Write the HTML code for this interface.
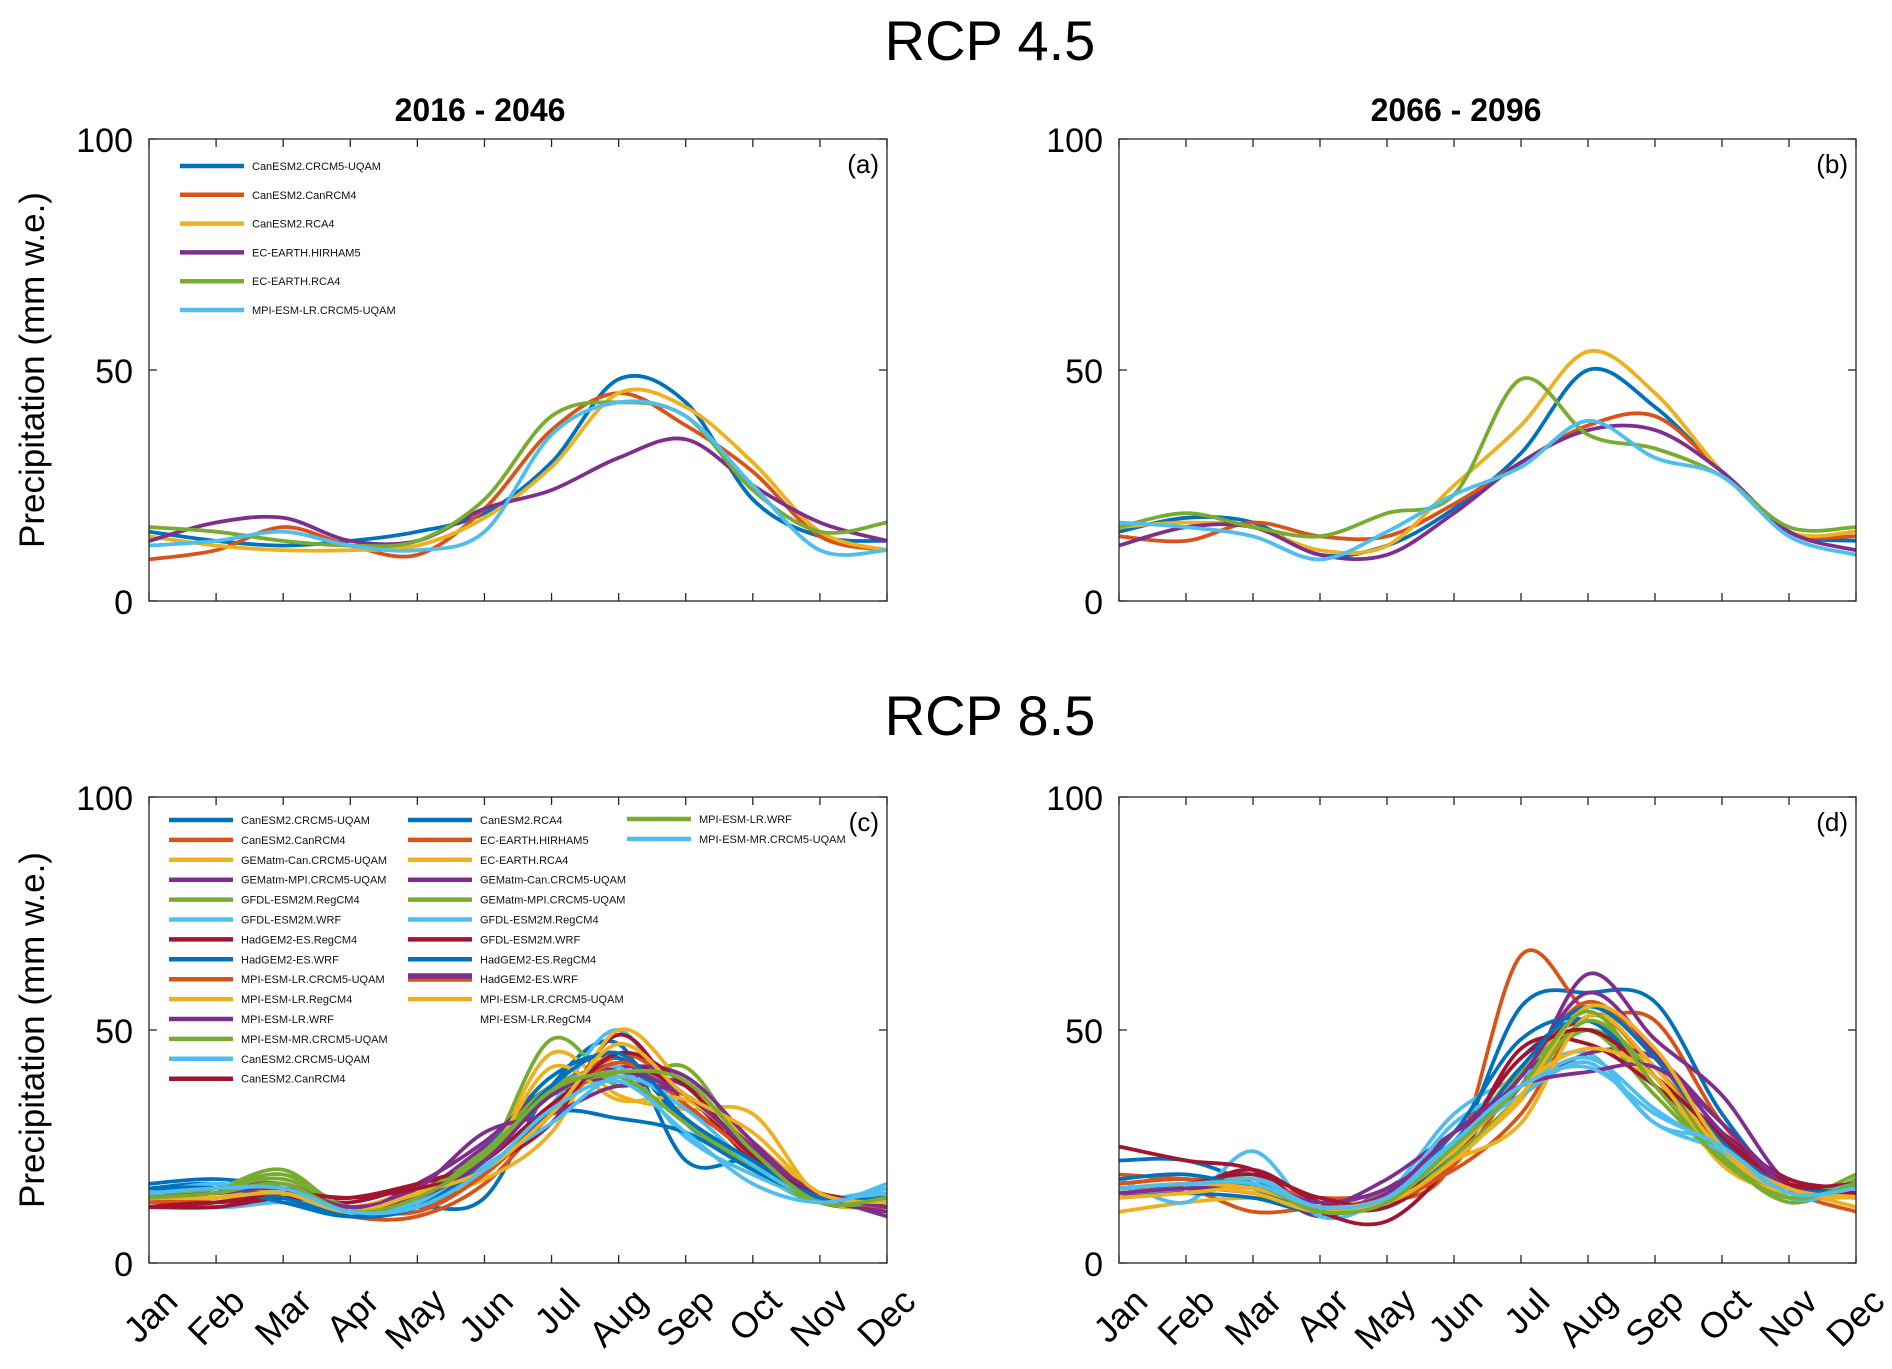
<!DOCTYPE html>
<html><head><meta charset="utf-8"><style>
html,body{margin:0;padding:0;background:#fff;}
svg{display:block;font-family:"Liberation Sans",Arial,sans-serif;}
</style></head><body>
<svg id="fig" width="1892" height="1369" viewBox="0 0 1892 1369" xmlns="http://www.w3.org/2000/svg">
<text x="990" y="60" font-size="56" text-anchor="middle">RCP 4.5</text>
<text x="990" y="735" font-size="56" text-anchor="middle">RCP 8.5</text>
<text x="480" y="121" font-size="32" font-weight="bold" text-anchor="middle">2016 - 2046</text>
<text x="1456" y="121" font-size="32" font-weight="bold" text-anchor="middle">2066 - 2096</text>
</svg>
<script>
const months=["Jan","Feb","Mar","Apr","May","Jun","Jul","Aug","Sep","Oct","Nov","Dec"];
const yTicks=[0,50,100];
const C={b:"#0072BD",o:"#D95319",y:"#EDB120",p:"#7E2F8E",g:"#77AC30",c:"#4DBEEE",r:"#A2142F"};
const namesA=["CanESM2.CRCM5-UQAM","CanESM2.CanRCM4","CanESM2.RCA4","EC-EARTH.HIRHAM5","EC-EARTH.RCA4","MPI-ESM-LR.CRCM5-UQAM"];
const colorsA=["b","o","y","p","g","c"];
const seriesA=[
[15,13,12,13,15,19,30,48,43,22,14,13],
[9,11,16,12,10,20,37,45,38,28,14,11],
[14,12,11,11,12,18,29,45,42,30,15,11],
[13,17,18,13,13,20,24,31,35,25,17,13],
[16,15,13,12,13,22,40,43,40,24,15,17],
[12,13,15,12,11,15,36,43,40,25,11,11]];
const seriesB=[
[15,18,17,10,12,20,32,50,42,28,15,13],
[14,13,17,14,14,21,30,38,40,28,15,14],
[16,17,16,11,12,25,38,54,45,28,15,15],
[12,16,16,10,10,19,30,37,37,28,15,11],
[16,19,16,14,19,23,48,36,33,27,16,16],
[17,16,14,9,15,23,29,39,31,27,14,10]];
const namesC=["CanESM2.CRCM5-UQAM","CanESM2.CanRCM4","GEMatm-Can.CRCM5-UQAM","GEMatm-MPI.CRCM5-UQAM","GFDL-ESM2M.RegCM4","GFDL-ESM2M.WRF","HadGEM2-ES.RegCM4","HadGEM2-ES.WRF","MPI-ESM-LR.CRCM5-UQAM","MPI-ESM-LR.RegCM4","MPI-ESM-LR.WRF","MPI-ESM-MR.CRCM5-UQAM","CanESM2.CRCM5-UQAM","CanESM2.CanRCM4",
"CanESM2.RCA4","EC-EARTH.HIRHAM5","EC-EARTH.RCA4","GEMatm-Can.CRCM5-UQAM","GEMatm-MPI.CRCM5-UQAM","GFDL-ESM2M.RegCM4","GFDL-ESM2M.WRF","HadGEM2-ES.RegCM4","HadGEM2-ES.WRF","MPI-ESM-LR.CRCM5-UQAM","MPI-ESM-LR.RegCM4",
"MPI-ESM-LR.WRF","MPI-ESM-MR.CRCM5-UQAM"];
const colorsC=["b","o","y","p","g","c","r","b","o","y","p","g","c","r","b","o","y","p","g","c","r","b","p","y","","g","c"];
const seriesC=[
[17,18,16,11,12,14,38,47,22,22,14,14],
[13,14,15,10,10,17,32,44,30,22,13,12],
[14,13,15,12,16,22,45,36,33,32,14,12],
[15,16,17,12,15,25,36,40,38,25,15,10],
[14,16,20,11,14,22,48,38,42,23,13,14],
[15,12,13,11,13,20,34,50,30,20,13,17],
[13,13,14,14,17,21,30,49,34,24,15,14],
[16,17,14,10,13,24,40,44,30,21,14,13],
[14,15,16,12,12,19,33,45,36,24,14,14],
[13,14,15,11,14,18,28,50,38,26,15,12],
[14,15,16,11,17,26,38,42,40,26,14,12],
[15,16,19,12,15,24,38,40,30,20,13,13],
[15,17,15,10,13,22,36,42,27,19,14,16],
[12,12,14,13,17,22,34,43,36,22,14,12],
[16,16,13,10,13,20,32,31,28,20,14,15],
[13,14,15,12,11,19,32,43,34,23,14,12],
[14,15,15,11,15,22,42,35,35,24,14,13],
[14,15,16,12,16,28,32,38,36,24,14,11],
[15,16,18,12,14,24,36,40,30,21,13,13],
[14,14,15,11,13,21,30,40,33,21,14,15],
[12,13,15,14,16,20,32,45,38,23,15,13],
[15,16,14,10,12,22,38,45,31,22,14,14],
[14,15,16,12,14,22,36,41,36,24,15,12],
[14,14,15,11,15,20,32,47,36,28,15,13],
null,
[14,15,17,11,14,23,37,41,39,24,13,14],
[15,16,16,11,12,20,33,39,28,17,13,16]];
const seriesD=[
[22,22,17,11,13,24,55,58,56,32,16,16],
[16,16,11,12,13,22,66,54,52,30,16,11],
[11,13,14,13,14,23,35,55,40,22,16,12],
[16,17,17,10,16,26,38,62,48,36,17,15],
[16,17,18,12,13,24,38,50,40,23,13,18],
[18,13,24,10,15,32,40,45,30,26,14,16],
[25,22,20,11,9,22,42,52,40,28,18,16],
[17,18,16,12,14,26,44,52,38,25,16,16],
[19,18,17,14,15,20,32,53,42,26,17,15],
[14,15,16,12,13,24,42,50,38,22,15,15],
[15,16,15,12,18,28,36,45,44,30,17,15],
[17,18,16,11,14,25,41,50,36,22,14,19],
[16,17,19,11,14,30,38,44,33,24,15,16],
[14,16,20,13,12,23,46,47,38,26,17,17],
[15,15,14,11,15,28,48,52,40,24,15,17],
[17,18,16,12,13,21,40,56,44,26,16,14],
[15,16,15,11,14,22,30,53,42,24,15,15],
[14,16,17,13,16,26,40,58,45,28,16,14],
[16,17,17,11,13,23,36,52,40,23,14,17],
[15,16,18,12,15,26,36,43,30,24,15,17],
[16,17,19,14,13,25,44,50,40,27,17,15],
[18,19,16,12,14,24,42,55,44,26,16,16],
[15,16,16,12,15,28,38,41,42,30,16,14],
[16,17,16,12,13,22,36,55,46,25,16,14],
[14,15,16,12,14,24,38,46,40,21,15,14],
[16,17,17,11,13,25,38,54,38,22,14,17],
[16,17,17,12,14,26,38,42,32,25,15,16]];

const NS="http://www.w3.org/2000/svg";
const svg=document.getElementById("fig");
function mk(tag,attrs,parent){const e=document.createElementNS(NS,tag);for(const k in attrs)e.setAttribute(k,attrs[k]);(parent||svg).appendChild(e);return e;}

function panel(id,x0,x1,y0,y1,series,colors,letter,showMonths,showYLabel){
  const g=mk("g",{});
  
  
  const xs=i=>x0+(x1-x0)*i/11;
  const ys=v=>y1-(y1-y0)*v/100;
  const cp=mk("clipPath",{id:"clip-"+id},g);
  mk("rect",{x:x0,y:y0,width:x1-x0,height:y1-y0},cp);
  const lg=mk("g",{"clip-path":"url(#clip-"+id+")"},g);
  series.forEach((s,k)=>{
    if(!s)return;
    const p=s.map((v,i)=>[xs(i),ys(v)]);
    let d="M"+p[0][0]+","+p[0][1];
    for(let i=0;i<p.length-1;i++){
      const a=p[Math.max(0,i-1)],b=p[i],c=p[i+1],e=p[Math.min(p.length-1,i+2)];
      const c1=[b[0]+(c[0]-a[0])/6,b[1]+(c[1]-a[1])/6];
      const c2=[c[0]-(e[0]-b[0])/6,c[1]-(e[1]-b[1])/6];
      d+=" C"+c1[0].toFixed(1)+","+c1[1].toFixed(1)+" "+c2[0].toFixed(1)+","+c2[1].toFixed(1)+" "+c[0].toFixed(1)+","+c[1].toFixed(1);
    }
    const path=mk("path",{d:d,fill:"none",stroke:C[colors[k]||"y"],"stroke-width":3.8,"stroke-linejoin":"round"},lg);
    
    
  });
  const box=mk("rect",{x:x0,y:y0,width:x1-x0,height:y1-y0,fill:"none",stroke:"#262626","stroke-width":1.3},g);
  
  
  months.forEach((m,i)=>{
    const x=xs(i);
    mk("line",{x1:x,x2:x,y1:y1,y2:y1-8,stroke:"#262626","stroke-width":1.3},g);
    mk("line",{x1:x,x2:x,y1:y0,y2:y0+8,stroke:"#262626","stroke-width":1.3},g);
    if(showMonths){
      const tx=x+12,ty=y1+22;
      const t=mk("text",{x:tx,y:ty,"font-size":36,"text-anchor":"end",transform:"rotate(-45 "+tx+" "+ty+")","dominant-baseline":"hanging"},g);
      t.textContent=m;
      
      
    }
  });
  yTicks.forEach(v=>{
    const y=ys(v);
    mk("line",{x1:x0,x2:x0+8,y1:y,y2:y,stroke:"#262626","stroke-width":1.3},g);
    mk("line",{x1:x1,x2:x1-8,y1:y,y2:y,stroke:"#262626","stroke-width":1.3},g);
    const t=mk("text",{x:x0-16,y:y+13,"font-size":34,"text-anchor":"end"},g);
    t.textContent=v;
    
    
  });
  const lt=mk("text",{x:x1-8,y:y0+34,"font-size":26,"text-anchor":"end"},g);
  lt.textContent="("+letter+")";
  
  
  if(showYLabel){
    const cy=(y0+y1)/2;
    const t=mk("text",{x:44,y:cy,"font-size":35,"text-anchor":"middle",transform:"rotate(-90 44 "+cy+")"},g);
    t.textContent="Precipitation (mm w.e.)";
    
    
  }
  return g;
}
function legendEntry(x,y,w,name,color,fs,id){
  const g=mk("g",{});
  
  
  if(color)mk("line",{x1:x,x2:x+w,y1:y,y2:y,stroke:C[color],"stroke-width":4.5},g);
  const t=mk("text",{x:x+w+8,y:y+4,"font-size":fs,fill:"#111"},g);
  t.textContent=name;
}
panel("a",149,887,139,601,seriesA,colorsA,"a",false,true);
panel("b",1119,1856,139,601,seriesB,colorsA,"b",false,false);
panel("c",149,887,797,1263,seriesC,colorsC,"c",true,true);
panel("d",1119,1856,797,1263,seriesD,colorsC,"d",true,false);
namesA.forEach((n,i)=>legendEntry(180,166+i*28.8,64,n,colorsA[i],11,"a-"+i));
namesC.forEach((n,i)=>{
  let x,y;
  if(i<14){x=169;y=820+i*19.9;}
  else if(i<25){x=408;y=820+(i-14)*19.9;}
  else {x=627;y=819+(i-25)*20;}
  legendEntry(x,y,64,n,colorsC[i],11,"c-"+i);
});
const sw=mk("line",{x1:408,x2:472,y1:820+8*19.9-4,y2:820+8*19.9-4,stroke:C.p,"stroke-width":4});


const sw2=mk("line",{x1:408,x2:472,y1:820+8*19.9+1,y2:820+8*19.9+1,stroke:C.o,"stroke-width":3});


</script>
</body></html>
